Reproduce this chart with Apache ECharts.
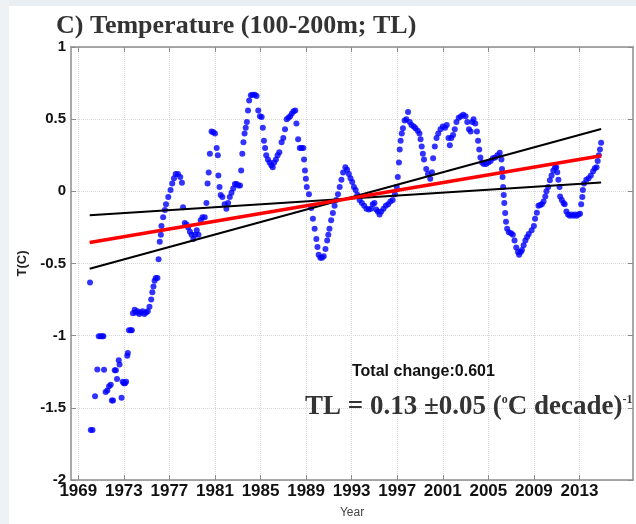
<!DOCTYPE html>
<html>
<head>
<meta charset="utf-8">
<script src="https://cdn.jsdelivr.net/npm/echarts@6/dist/echarts.min.js"></script>
<style>
html,body{margin:0;padding:0;background:#fff;}
#chart{width:636px;height:524px;}
</style>
</head>
<body>
<div id="chart"></div>
<script>
// Tick labels
const xTickYears = [1969, 1973, 1977, 1981, 1985, 1989, 1993, 1997, 2001, 2005, 2009, 2013];
const yTicks = [-2, -1.5, -1, -0.5, 0, 0.5, 1];

const obsEarly = [
 [1970.03,-0.632],[1970.1,-1.653],[1970.25,-1.653],[1970.47,-1.42],[1970.67,-1.234],
 [1970.8,-1.004],[1970.95,-1.004],[1971.1,-1.004],[1971.2,-1.004],[1971.26,-1.236],
 [1971.4,-1.39],[1971.55,-1.38],[1971.7,-1.35],[1971.85,-1.34],[1971.95,-1.45],[1972.05,-1.45],
 [1972.2,-1.24],[1972.3,-1.24],[1972.4,-1.30],[1972.55,-1.17],[1972.62,-1.2],[1972.8,-1.43],
 [1972.9,-1.32],[1973.0,-1.33],[1973.1,-1.33],[1973.2,-1.32],[1973.3,-1.14],[1973.35,-1.12],
 [1973.45,-0.963],[1973.6,-0.963],[1973.7,-0.963],[1973.8,-0.845],[1973.95,-0.82],[1974.05,-0.84],
 [1974.2,-0.83],[1974.35,-0.85],[1974.5,-0.84],[1974.65,-0.83],[1974.8,-0.85],[1974.95,-0.84],
 [1975.1,-0.83],[1975.25,-0.80],[1975.4,-0.75],[1975.5,-0.70],[1975.6,-0.66],[1975.7,-0.62],
 [1975.8,-0.60],[1975.95,-0.60],[1976.05,-0.47],[1976.15,-0.35]
];
const obs1976to1990 = [
 [1976.25,-0.30],[1976.3,-0.24],[1976.45,-0.18],[1976.6,-0.13],[1976.7,-0.09],[1976.9,-0.04],
 [1977.1,0.01],[1977.25,0.055],[1977.4,0.09],[1977.55,0.12],[1977.75,0.12],[1977.95,0.10],[1978.1,0.06],
 [1978.2,-0.11],[1978.35,-0.22],[1978.5,-0.23],[1978.65,-0.25],[1978.8,-0.28],[1978.95,-0.30],
 [1979.1,-0.33],[1979.25,-0.30],[1979.4,-0.27],[1979.55,-0.30],[1979.75,-0.20],[1979.9,-0.18],
 [1980.1,-0.18],[1980.25,-0.08],[1980.35,0.055],[1980.45,0.13],[1980.55,0.26],[1980.7,0.415],
 [1980.85,0.41],[1981.0,0.40],[1981.15,0.30],[1981.25,0.25],[1981.3,0.11],[1981.4,0.03],
 [1981.5,-0.025],[1981.65,-0.04],[1981.85,-0.09],[1982.0,-0.12],[1982.15,-0.08],[1982.3,-0.04],
 [1982.45,-0.01],[1982.6,0.02],[1982.75,0.05],[1982.9,0.05],[1983.05,0.04],[1983.2,0.04],
 [1983.3,0.145],[1983.4,0.26],[1983.5,0.34],[1983.6,0.40],[1983.7,0.44],[1983.8,0.48],
 [1983.9,0.56],[1984.0,0.63],[1984.15,0.665],[1984.3,0.67],[1984.5,0.67],[1984.65,0.66],
 [1984.8,0.56],[1984.95,0.52],[1985.1,0.515],[1985.2,0.44],[1985.3,0.35],[1985.4,0.30],
 [1985.5,0.25],[1985.65,0.22],[1985.8,0.20],[1985.95,0.18],[1986.07,0.167],[1986.2,0.20],
 [1986.35,0.22],[1986.5,0.25],[1986.65,0.27],[1986.85,0.34],[1987.0,0.37],[1987.15,0.43],
 [1987.3,0.50],[1987.45,0.51],[1987.6,0.52],[1987.75,0.54],[1987.9,0.555],[1988.05,0.56],
 [1988.15,0.47],[1988.3,0.36],[1988.45,0.30],[1988.6,0.30],[1988.75,0.30],[1988.82,0.22],
 [1988.9,0.145],[1988.98,0.088],[1989.06,0.03],[1989.25,-0.02],[1989.45,-0.115],[1989.6,-0.19],
 [1989.75,-0.26],[1989.9,-0.33],[1990.0,-0.385]
];
const obs1990to2003 = [
 [1990.1,-0.44],[1990.25,-0.46],[1990.4,-0.46],[1990.55,-0.45],[1990.7,-0.40],[1990.85,-0.34],
 [1990.95,-0.30],[1991.05,-0.26],[1991.2,-0.20],[1991.35,-0.15],[1991.5,-0.10],[1991.65,-0.06],
 [1991.8,-0.02],[1991.95,0.03],[1992.1,0.08],[1992.25,0.13],[1992.45,0.167],[1992.6,0.15],
 [1992.75,0.12],[1992.9,0.09],[1993.05,0.065],[1993.2,0.03],[1993.35,0.01],[1993.5,-0.024],
 [1993.7,-0.06],[1993.9,-0.08],[1994.1,-0.10],[1994.3,-0.12],[1994.5,-0.125],[1994.7,-0.12],
 [1994.85,-0.09],[1995.0,-0.08],[1995.15,-0.125],[1995.3,-0.14],[1995.45,-0.16],[1995.6,-0.14],
 [1995.8,-0.12],[1996.0,-0.10],[1996.2,-0.09],[1996.4,-0.07],[1996.6,-0.06],[1996.8,-0.02],
 [1996.96,0.03],[1997.05,0.10],[1997.15,0.20],[1997.22,0.29],[1997.3,0.35],[1997.4,0.40],
 [1997.5,0.437],[1997.65,0.49],[1997.8,0.50],[1997.95,0.55],[1998.1,0.48],[1998.25,0.46],
 [1998.45,0.45],[1998.6,0.437],[1998.8,0.42],[1998.95,0.40],[1999.05,0.36],[1999.15,0.31],
 [1999.25,0.26],[1999.35,0.22],[1999.55,0.155],[1999.7,0.12],[1999.9,0.088],[2000.05,0.133],
 [2000.15,0.23],[2000.3,0.31],[2000.45,0.37],[2000.6,0.40],[2000.8,0.43],[2001.0,0.45],
 [2001.2,0.44],[2001.35,0.46],[2001.5,0.37],[2001.62,0.32],[2001.75,0.37],[2001.9,0.39],
 [2002.05,0.43],[2002.2,0.48],[2002.4,0.51],[2002.6,0.52],[2002.8,0.53],[2003.0,0.52]
];
const obs2003to2015 = [
 [2003.15,0.48],[2003.3,0.43],[2003.45,0.415],[2003.6,0.48],[2003.7,0.50],[2003.85,0.47],
 [2004.0,0.415],[2004.1,0.35],[2004.2,0.29],[2004.3,0.234],[2004.45,0.20],[2004.6,0.19],
 [2004.8,0.19],[2005.0,0.20],[2005.2,0.21],[2005.4,0.23],[2005.6,0.234],[2005.8,0.25],
 [2006.0,0.268],[2006.15,0.22],[2006.2,0.155],[2006.25,0.10],[2006.3,0.03],[2006.35,-0.025],
 [2006.4,-0.08],[2006.48,-0.15],[2006.55,-0.21],[2006.65,-0.26],[2006.8,-0.284],[2007.0,-0.29],
 [2007.15,-0.30],[2007.3,-0.34],[2007.45,-0.39],[2007.6,-0.42],[2007.7,-0.44],[2007.85,-0.42],
 [2007.95,-0.407],[2008.1,-0.374],[2008.25,-0.34],[2008.4,-0.317],[2008.55,-0.295],[2008.8,-0.27],
 [2009.0,-0.24],[2009.1,-0.19],[2009.26,-0.149],[2009.4,-0.10],[2009.55,-0.095],[2009.7,-0.09],
 [2009.85,-0.07],[2010.0,-0.036],[2010.1,0.0],[2010.25,0.03],[2010.4,0.077],[2010.55,0.11],
 [2010.7,0.145],[2010.85,0.165],[2010.96,0.167],[2011.05,0.133],[2011.15,0.08],[2011.25,0.03],
 [2011.3,-0.036],[2011.45,-0.06],[2011.6,-0.08],[2011.7,-0.09],[2011.85,-0.14],[2012.0,-0.16],
 [2012.15,-0.17],[2012.3,-0.16],[2012.45,-0.17],[2012.6,-0.16],[2012.75,-0.17],[2012.9,-0.16],
 [2013.05,-0.155],[2013.15,-0.09],[2013.25,-0.04],[2013.3,0.01],[2013.4,0.054],[2013.6,0.08],
 [2013.8,0.09],[2014.0,0.11],[2014.2,0.14],[2014.35,0.16],[2014.5,0.167],[2014.6,0.21],
 [2014.7,0.25],[2014.8,0.29],[2014.9,0.336]
];

// Linear trend and its bounds
const trendYears = [1970.0, 2014.9];
const trendMain = [-0.355, 0.246];
const trendSteep = [-0.536, 0.432];
const trendShallow = [-0.166, 0.061];

const titleText = 'C) Temperature (100-200m; TL)';
const totalChangeText = 'Total change:0.601';

const obs = obsEarly.concat(obs1976to1990, obs1990to2003, obs2003to2015);
const pairs = (ys) => trendYears.map((x, i) => [x, ys[i]]);

const chart = echarts.init(document.getElementById('chart'), null, {renderer: 'canvas'});
const frameColor = '#8c8c8c';
const labelFont = 'Liberation Sans';
const serif = 'Liberation Serif';

chart.setOption({
  animation: false,
  backgroundColor: '#ffffff',
  grid: {left: 71, right: 3, top: 47, bottom: 34, containLabel: false},
  xAxis: [{
    type: 'value', min: 1968.36, max: 2017.7, position: 'bottom',
    name: 'Year', nameLocation: 'middle', nameGap: 27,
    nameTextStyle: {fontFamily: labelFont, fontSize: 12, color: '#444'},
    axisLine: {show: true, onZero: false, lineStyle: {color: frameColor, width: 1.5}},
    axisTick: {show: true, inside: true, length: 5, customValues: xTickYears, lineStyle: {color: frameColor, width: 1}},
    axisLabel: {customValues: xTickYears, margin: 3, fontFamily: labelFont, fontWeight: 'bold', fontSize: 17, color: '#111',
      formatter: (v) => String(Math.round(v))},
    splitLine: {show: true, lineStyle: {type: 'dotted', color: '#d6d6d6', width: 1}}
  }, {
    type: 'value', min: 1968.36, max: 2017.7, position: 'top',
    axisLine: {show: true, onZero: false, lineStyle: {color: frameColor, width: 1.5}},
    axisTick: {show: true, inside: true, length: 5, customValues: xTickYears, lineStyle: {color: frameColor, width: 1}},
    axisLabel: {show: false, customValues: xTickYears},
    splitLine: {show: false}
  }],
  yAxis: [{
    type: 'value', min: -2, max: 1, interval: 0.5, position: 'left',
    name: 'T(C)', nameLocation: 'middle', nameGap: 36, nameRotate: 90,
    nameTextStyle: {fontFamily: labelFont, fontWeight: 'bold', fontSize: 13, color: '#222'},
    axisLine: {show: true, onZero: false, lineStyle: {color: frameColor, width: 1.5}},
    axisTick: {show: true, inside: true, length: 5, lineStyle: {color: frameColor, width: 1}},
    axisLabel: {margin: 5, fontFamily: labelFont, fontWeight: 'bold', fontSize: 15, color: '#111',
      formatter: (v) => String(v)},
    splitLine: {show: true, lineStyle: {type: 'dotted', color: '#d6d6d6', width: 1}}
  }, {
    type: 'value', min: -2, max: 1, interval: 0.5, position: 'right',
    axisLine: {show: true, onZero: false, lineStyle: {color: frameColor, width: 1.5}},
    axisTick: {show: true, inside: true, length: 5, lineStyle: {color: frameColor, width: 1}},
    axisLabel: {show: false},
    splitLine: {show: false}
  }],
  series: [{
    type: 'scatter', xAxisIndex: 0, yAxisIndex: 0,
    data: obs, symbol: 'circle', symbolSize: 6,
    itemStyle: {color: '#0000ff'}, z: 2
  }, {
    type: 'line', xAxisIndex: 0, yAxisIndex: 0, data: pairs(trendSteep),
    symbol: 'none', lineStyle: {color: '#000', width: 2}, z: 3
  }, {
    type: 'line', xAxisIndex: 0, yAxisIndex: 0, data: pairs(trendShallow),
    symbol: 'none', lineStyle: {color: '#000', width: 2}, z: 3
  }, {
    type: 'line', xAxisIndex: 0, yAxisIndex: 0, data: pairs(trendMain),
    symbol: 'none', lineStyle: {color: '#ff0000', width: 3.5}, z: 4
  }],
  graphic: [
    {type: 'rect', left: 0, top: 0, shape: {width: 636, height: 6}, style: {fill: '#eaeff3'}, z: -10, silent: true},
    {type: 'rect', left: 0, top: 0, shape: {width: 9, height: 524}, style: {fill: '#eef2f5'}, z: -10, silent: true},
    {type: 'text', x: 56, y: 13, z: 10,
      style: {text: titleText, fontFamily: serif, fontWeight: 'bold', fontSize: 26, fill: '#333', verticalAlign: 'top'}},
    {type: 'text', x: 352, y: 372, z: 10,
      style: {text: totalChangeText, fontFamily: labelFont, fontWeight: 'bold', fontSize: 16, fill: '#111', verticalAlign: 'middle'}},
    {type: 'text', x: 305, y: 394, z: 10,
      style: {
        text: '{a|TL = 0.13 ±0.05 (}{s|o}{a|C decade)}{s|-1}',
        verticalAlign: 'top',
        rich: {
          a: {fontFamily: serif, fontWeight: 'bold', fontSize: 27, fill: '#333', verticalAlign: 'bottom'},
          s: {fontFamily: serif, fontWeight: 'bold', fontSize: 12, fill: '#333', verticalAlign: 'top'}
        }
      }}
  ]
});
</script>
</body>
</html>
